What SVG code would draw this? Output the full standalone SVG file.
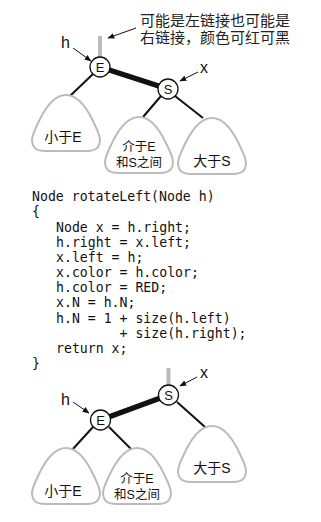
<svg xmlns="http://www.w3.org/2000/svg" width="321" height="522" viewBox="0 0 321 522">
  <style>
    .node circle { fill: #fff; stroke: #111; stroke-width: 1.3; }
    .node text { font-family: "Liberation Sans", "Noto Sans CJK SC", sans-serif; font-size: 13px; fill: #111; text-anchor: middle; }
    .sub use { fill: #fff; stroke: #bbb; stroke-width: 2; }
    .sub text { font-family: "Liberation Sans", "Noto Sans CJK SC", sans-serif; fill: #111; text-anchor: middle; }
    .edge { stroke: #111; stroke-width: 2; fill: none; }
    .red { stroke: #111; stroke-width: 5.5; fill: none; }
    .parent { stroke: #bbb; stroke-width: 4; fill: none; }
    .ptr { stroke: #111; stroke-width: 1; fill: none; marker-end: url(#ah); }
    .lbl { font-family: "Liberation Sans", "Noto Sans CJK SC", sans-serif; font-size: 16px; fill: #111; }
    .note { font-family: "Liberation Sans", "Noto Sans CJK SC", sans-serif; font-size: 15px; fill: #222; }
    .code { font-family: "DejaVu Sans Mono", "Liberation Mono", monospace; font-size: 13.2px; fill: #111; }
  </style>
  <defs>
    <marker id="ah" viewBox="0 0 10 10" refX="9" refY="5" markerWidth="7" markerHeight="7" orient="auto" markerUnits="userSpaceOnUse">
      <path d="M0,1 L10,5 L0,9 Z" fill="#111"/>
    </marker>
    <!-- rounded triangle standing for a subtree, apex at origin -->
    <path id="tri" d="M0,0 C10,0 18,8 26,24 C34,40 36,46 32,52 C30,55 26,56 20,56 L-20,56 C-26,56 -30,55 -32,52 C-36,46 -34,40 -26,24 C-18,8 -10,0 0,0 Z"/>
  </defs>

  <!-- ===== before rotation ===== -->
  <text class="note" x="140" y="26">可能是左链接也可能是</text>
  <text class="note" x="140" y="43">右链接，颜色可红可黑</text>

  <g id="connectors-top">
    <line class="parent" x1="100" y1="36" x2="100" y2="57"/>
    <line class="red" x1="100" y1="67" x2="168" y2="89"/>
    <line class="edge" x1="93" y1="74" x2="70" y2="96"/>
    <line class="edge" x1="161" y1="96" x2="143" y2="117"/>
    <line class="edge" x1="175" y1="96" x2="203" y2="118"/>
    <line class="ptr" x1="136" y1="28" x2="108" y2="38"/>
    <line class="ptr" x1="73" y1="48" x2="91" y2="61"/>
    <line class="ptr" x1="198" y1="72" x2="180" y2="81"/>
  </g>

  <text class="lbl" x="61" y="48">h</text>
  <text class="lbl" x="200" y="73">x</text>

  <g id="top-E" class="node"><circle cx="100" cy="67" r="10"/><text x="100" y="72">E</text></g>
  <g id="top-S" class="node"><circle cx="168" cy="89" r="10"/><text x="168" y="94">S</text></g>

  <g id="top-lt" class="sub"><use href="#tri" transform="translate(66,95)"/><text x="63" y="142" font-size="14">小于E</text></g>
  <g id="top-mid" class="sub"><use href="#tri" transform="translate(139,117)"/><text x="139" y="151" font-size="12.5">介于E</text><text x="139" y="167" font-size="12.5">和S之间</text></g>
  <g id="top-gt" class="sub"><use href="#tri" transform="translate(212,118)"/><text x="212" y="166" font-size="14">大于S</text></g>

  <!-- ===== code ===== -->
  <g id="code" class="code">
    <text x="32" y="201">Node rotateLeft(Node h)</text>
    <text x="32" y="216">{</text>
    <text x="56" y="231.5">Node x = h.right;</text>
    <text x="56" y="246.5">h.right = x.left;</text>
    <text x="56" y="262">x.left = h;</text>
    <text x="56" y="277">x.color = h.color;</text>
    <text x="56" y="292">h.color = RED;</text>
    <text x="56" y="307">x.N = h.N;</text>
    <text x="56" y="322.5">h.N = 1 + size(h.left)</text>
    <text x="119.5" y="338">+ size(h.right);</text>
    <text x="56" y="353">return x;</text>
    <text x="32" y="368">}</text>
  </g>

  <!-- ===== after rotation ===== -->
  <g id="connectors-bottom">
    <line class="parent" x1="168.5" y1="368" x2="168.5" y2="386"/>
    <line class="red" x1="168.5" y1="395" x2="100.5" y2="420"/>
    <line class="edge" x1="93" y1="427" x2="72" y2="450"/>
    <line class="edge" x1="109" y1="427" x2="132" y2="450"/>
    <line class="edge" x1="177" y1="402" x2="205" y2="427"/>
    <line class="ptr" x1="197" y1="377" x2="180" y2="386"/>
    <line class="ptr" x1="73" y1="402" x2="89" y2="413"/>
  </g>

  <text class="lbl" x="200" y="378">x</text>
  <text class="lbl" x="61" y="405">h</text>

  <g id="bot-S" class="node"><circle cx="168.5" cy="395" r="10"/><text x="168.5" y="400">S</text></g>
  <g id="bot-E" class="node"><circle cx="100.5" cy="420" r="10"/><text x="100.5" y="425">E</text></g>

  <g id="bot-lt" class="sub"><use href="#tri" transform="translate(66,448)"/><text x="63" y="496" font-size="14">小于E</text></g>
  <g id="bot-mid" class="sub"><use href="#tri" transform="translate(137,448)"/><text x="137" y="483" font-size="12.5">介于E</text><text x="137" y="499" font-size="12.5">和S之间</text></g>
  <g id="bot-gt" class="sub"><use href="#tri" transform="translate(212,426)"/><text x="212" y="473" font-size="14">大于S</text></g>
</svg>
